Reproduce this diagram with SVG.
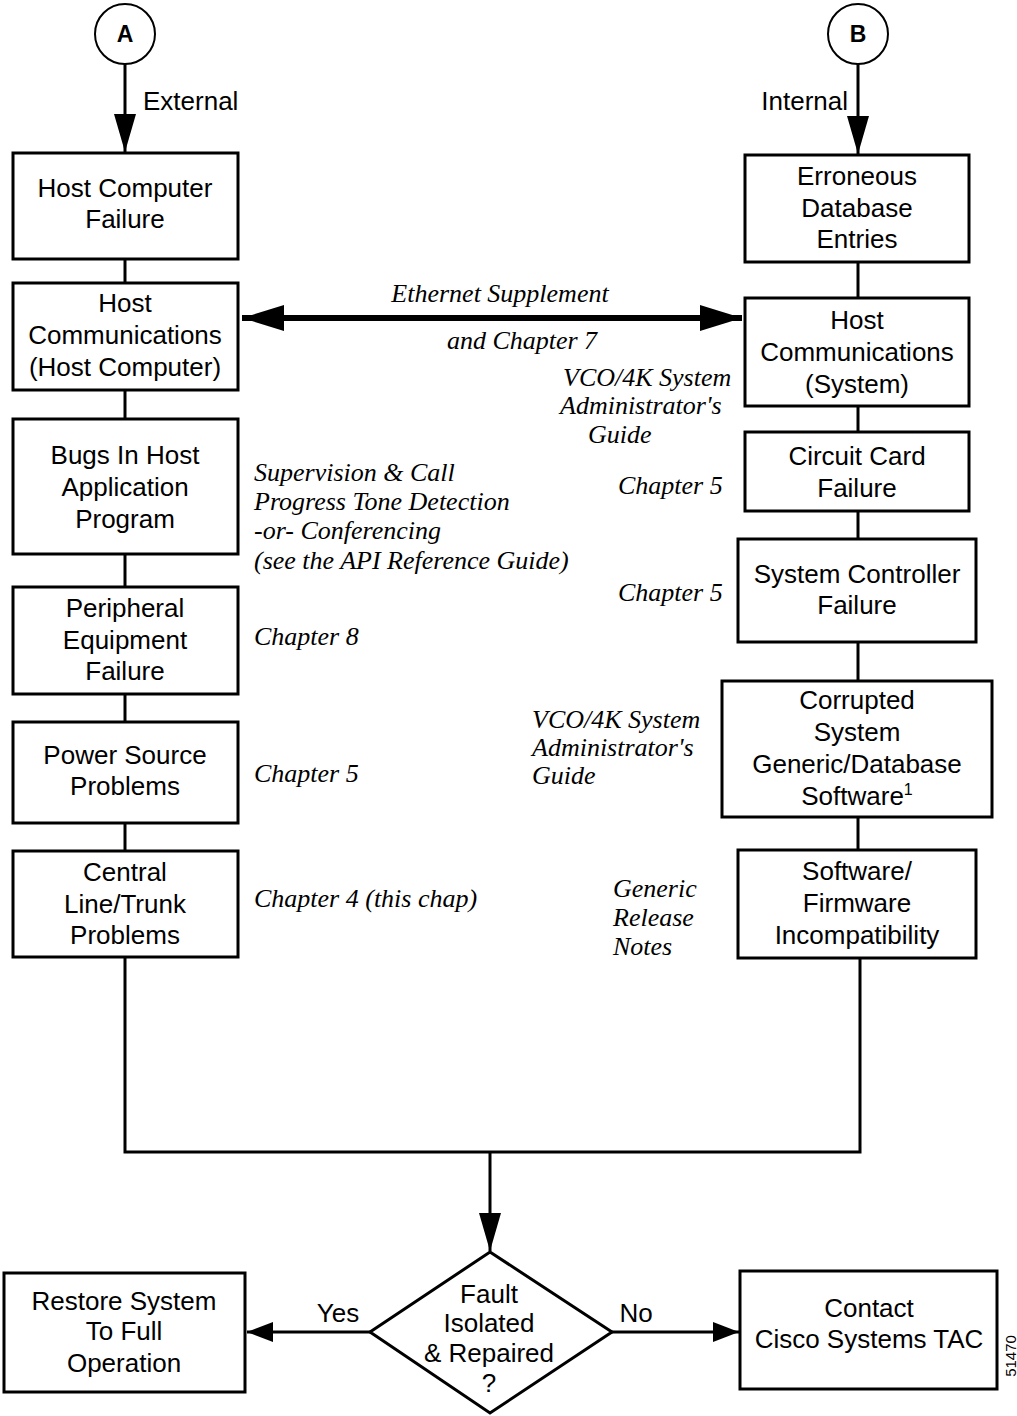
<svg xmlns="http://www.w3.org/2000/svg" width="1017" height="1416" viewBox="0 0 1017 1416">
<style>
.box{fill:#fff;stroke:#000;stroke-width:3}
.ln{fill:none;stroke:#000;stroke-width:3}
.t{font-family:"Liberation Sans",Arial,sans-serif;font-size:26px;fill:#000;text-anchor:middle}
.i{font-family:"Liberation Serif","Times New Roman",serif;font-style:italic;font-size:26px;fill:#000}
.c{font-family:"Liberation Sans",Arial,sans-serif;font-size:23px;font-weight:bold;fill:#000;text-anchor:middle}
</style>
<defs>
<marker id="ah" markerUnits="userSpaceOnUse" markerWidth="40" markerHeight="24" refX="38" refY="11" orient="auto"><path d="M0,0 L38,11 L0,22 z" fill="#000"/></marker>
<marker id="ahs" markerUnits="userSpaceOnUse" markerWidth="28" markerHeight="22" refX="26" refY="10" orient="auto"><path d="M0,0 L26,10 L0,20 z" fill="#000"/></marker>
<marker id="ahd" markerUnits="userSpaceOnUse" markerWidth="44" markerHeight="28" refX="42" refY="13" orient="auto"><path d="M0,0 L42,13 L0,26 z" fill="#000"/></marker>
<marker id="ahds" markerUnits="userSpaceOnUse" markerWidth="44" markerHeight="28" refX="42" refY="13" orient="auto-start-reverse"><path d="M0,0 L42,13 L0,26 z" fill="#000"/></marker>
</defs>
<g id="connectors">
<line class="ln" x1="125" y1="64" x2="125" y2="152" marker-end="url(#ah)"/>
<line class="ln" x1="858" y1="64" x2="858" y2="154" marker-end="url(#ah)"/>
<line class="ln" x1="125" y1="259" x2="125" y2="283"/>
<line class="ln" x1="125" y1="390" x2="125" y2="419"/>
<line class="ln" x1="125" y1="554" x2="125" y2="587"/>
<line class="ln" x1="125" y1="694" x2="125" y2="722"/>
<line class="ln" x1="125" y1="823" x2="125" y2="851"/>
<line class="ln" x1="858" y1="262" x2="858" y2="298"/>
<line class="ln" x1="858" y1="406" x2="858" y2="432"/>
<line class="ln" x1="858" y1="511" x2="858" y2="539"/>
<line class="ln" x1="858" y1="642" x2="858" y2="681"/>
<line class="ln" x1="858" y1="817" x2="858" y2="850"/>
<polyline class="ln" points="125,957 125,1152 860,1152 860,958"/>
<line class="ln" x1="490" y1="1152" x2="490" y2="1251" marker-end="url(#ah)"/>
<line x1="242" y1="318" x2="742" y2="318" stroke="#000" stroke-width="6" marker-start="url(#ahds)" marker-end="url(#ahd)"/>
<line class="ln" x1="370" y1="1332" x2="247" y2="1332" marker-end="url(#ahs)"/>
<line class="ln" x1="612" y1="1332" x2="739" y2="1332" marker-end="url(#ahs)"/>
</g>
<g id="circleA"><circle cx="125" cy="34" r="30" fill="#fff" stroke="#000" stroke-width="2"/><text class="c" x="125" y="42">A</text></g>
<g id="circleB"><circle cx="858" cy="34" r="30" fill="#fff" stroke="#000" stroke-width="2"/><text class="c" x="858" y="42">B</text></g>
<g id="edgeLabels">
<text class="t" x="143" y="110" style="text-anchor:start">External</text>
<text class="t" x="848" y="110" style="text-anchor:end">Internal</text>
<text class="t" x="338" y="1322">Yes</text>
<text class="t" x="636" y="1322">No</text>
</g>
<g id="hostFailure"><rect class="box" x="13" y="153" width="225" height="106"/><text class="t" x="125" y="197">Host Computer</text><text class="t" x="125" y="228">Failure</text></g>
<g id="hostCommsHost"><rect class="box" x="13" y="283" width="225" height="107"/><text class="t" x="125" y="312">Host</text><text class="t" x="125" y="344">Communications</text><text class="t" x="125" y="376">(Host Computer)</text></g>
<g id="bugs"><rect class="box" x="13" y="419" width="225" height="135"/><text class="t" x="125" y="464">Bugs In Host</text><text class="t" x="125" y="496">Application</text><text class="t" x="125" y="528">Program</text></g>
<g id="peripheral"><rect class="box" x="13" y="587" width="225" height="107"/><text class="t" x="125" y="617">Peripheral</text><text class="t" x="125" y="649">Equipment</text><text class="t" x="125" y="680">Failure</text></g>
<g id="power"><rect class="box" x="13" y="722" width="225" height="101"/><text class="t" x="125" y="764">Power Source</text><text class="t" x="125" y="795">Problems</text></g>
<g id="central"><rect class="box" x="13" y="851" width="225" height="106"/><text class="t" x="125" y="881">Central</text><text class="t" x="125" y="913">Line/Trunk</text><text class="t" x="125" y="944">Problems</text></g>
<g id="erroneous"><rect class="box" x="745" y="155" width="224" height="107"/><text class="t" x="857" y="185">Erroneous</text><text class="t" x="857" y="217">Database</text><text class="t" x="857" y="248">Entries</text></g>
<g id="hostCommsSys"><rect class="box" x="745" y="298" width="224" height="108"/><text class="t" x="857" y="329">Host</text><text class="t" x="857" y="361">Communications</text><text class="t" x="857" y="393">(System)</text></g>
<g id="circuit"><rect class="box" x="745" y="432" width="224" height="79"/><text class="t" x="857" y="465">Circuit Card</text><text class="t" x="857" y="497">Failure</text></g>
<g id="controller"><rect class="box" x="738" y="539" width="238" height="103"/><text class="t" x="857" y="583">System Controller</text><text class="t" x="857" y="614">Failure</text></g>
<g id="corrupted"><rect class="box" x="722" y="681" width="270" height="136"/><text class="t" x="857" y="709">Corrupted</text><text class="t" x="857" y="741">System</text><text class="t" x="857" y="773">Generic/Database</text><text class="t" x="857" y="805">Software<tspan font-size="16" dy="-10">1</tspan></text></g>
<g id="incompat"><rect class="box" x="738" y="850" width="238" height="108"/><text class="t" x="857" y="880">Software/</text><text class="t" x="857" y="912">Firmware</text><text class="t" x="857" y="944">Incompatibility</text></g>
<g id="decision"><polygon class="box" points="490,1252 612,1332 490,1413 370,1332"/><text class="t" x="489" y="1303">Fault</text><text class="t" x="489" y="1332">Isolated</text><text class="t" x="489" y="1362">&amp; Repaired</text><text class="t" x="489" y="1392">?</text></g>
<g id="restore"><rect class="box" x="4" y="1273" width="241" height="119"/><text class="t" x="124" y="1310">Restore System</text><text class="t" x="124" y="1340">To Full</text><text class="t" x="124" y="1372">Operation</text></g>
<g id="contact"><rect class="box" x="740" y="1271" width="257" height="118"/><text class="t" x="869" y="1317">Contact</text><text class="t" x="869" y="1348">Cisco Systems TAC</text></g>
<g id="references">
<text class="i" x="500" y="302" text-anchor="middle">Ethernet Supplement</text>
<text class="i" x="522" y="349" text-anchor="middle">and Chapter 7</text>
<text class="i" x="563" y="386">VCO/4K System</text>
<text class="i" x="560" y="414">Administrator's</text>
<text class="i" x="588" y="443">Guide</text>
<text class="i" x="254" y="481">Supervision &amp; Call</text>
<text class="i" x="254" y="510">Progress Tone Detection</text>
<text class="i" x="254" y="539">-or- Conferencing</text>
<text class="i" x="254" y="569">(see the API Reference Guide)</text>
<text class="i" x="618" y="494">Chapter 5</text>
<text class="i" x="618" y="601">Chapter 5</text>
<text class="i" x="254" y="645">Chapter 8</text>
<text class="i" x="532" y="728">VCO/4K System</text>
<text class="i" x="532" y="756">Administrator's</text>
<text class="i" x="532" y="784">Guide</text>
<text class="i" x="254" y="782">Chapter 5</text>
<text class="i" x="254" y="907">Chapter 4 (this chap)</text>
<text class="i" x="613" y="897">Generic</text>
<text class="i" x="613" y="926">Release</text>
<text class="i" x="613" y="955">Notes</text>
</g>
<text x="1016" y="1356" transform="rotate(-90 1016 1356)" font-family="Liberation Sans,Arial,sans-serif" font-size="15" text-anchor="middle">51470</text>
</svg>
